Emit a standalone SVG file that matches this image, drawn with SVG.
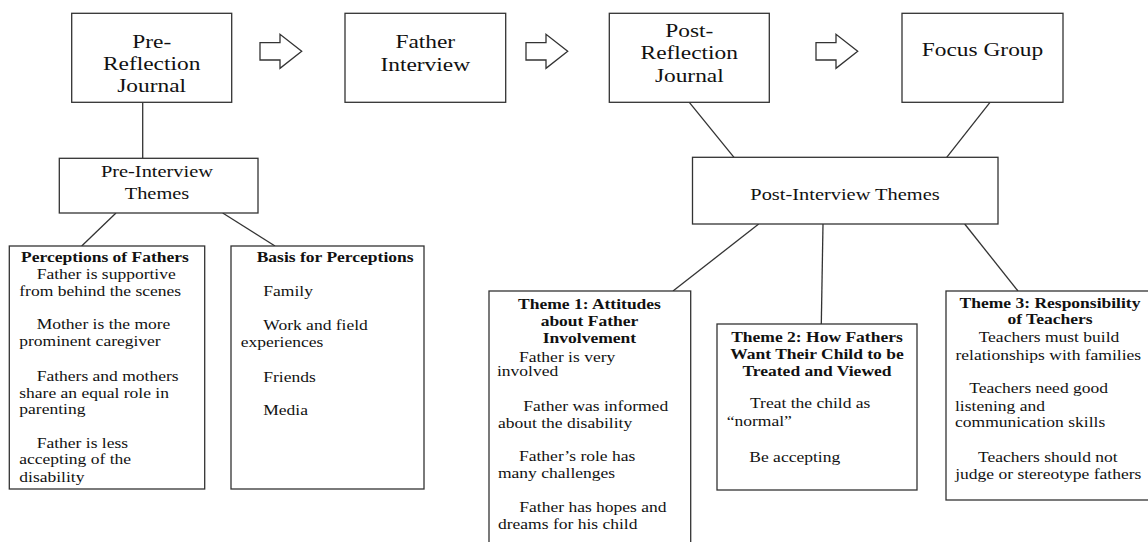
<svg xmlns="http://www.w3.org/2000/svg" width="1148" height="542" viewBox="0 0 1148 542">
<style>
rect, polygon { fill: #fff; stroke: #333; stroke-width: 1.3; }
line { stroke: #333; stroke-width: 1.3; }
text { font-family: "Liberation Serif", "Times New Roman", serif; fill: #111; transform-box: fill-box; }
.c { text-anchor: middle; transform-origin: center; transform: scaleX(1.2); }
.l { text-anchor: start; transform-origin: left center; transform: scaleX(1.2); }
.big { font-size: 19.5px; }
.mid { font-size: 17px; }
.sm { font-size: 14.6px; }
.b { font-weight: bold; }
</style>
<rect x="0" y="0" width="1148" height="542" style="fill:#fff;stroke:none"/>
<g id="connectors">
  <line x1="142.7" y1="102.3" x2="142.7" y2="158.3"/>
  <line x1="116" y1="213" x2="81.7" y2="246"/>
  <line x1="222.7" y1="213" x2="275" y2="246"/>
  <line x1="689.3" y1="102.3" x2="734" y2="157.3"/>
  <line x1="990" y1="102.3" x2="946.7" y2="157.3"/>
  <line x1="758.7" y1="224" x2="673" y2="291"/>
  <line x1="823" y1="224" x2="821.3" y2="324"/>
  <line x1="964.7" y1="224" x2="1018" y2="291"/>
  <polygon points="260,42.7 280,42.7 280,34.3 301.7,51.3 280,68.3 280,60 260,60"/>
  <polygon points="526,42.7 546,42.7 546,34.3 567.7,51.3 546,68.3 546,60 526,60"/>
  <polygon points="816,42.7 836,42.7 836,34.3 857.7,51.3 836,68.3 836,60 816,60"/>
</g>
<g id="pre-reflection">
  <rect x="71.7" y="13.3" width="160" height="89"/>
  <text class="c big" x="151.7" y="48.3">Pre-</text>
  <text class="c big" x="151.7" y="69.8">Reflection</text>
  <text class="c big" x="151.7" y="91.7">Journal</text>
</g>
<g id="father-interview">
  <rect x="345" y="13.3" width="160.7" height="89"/>
  <text class="c big" x="425.3" y="48.3">Father</text>
  <text class="c big" x="425.3" y="71">Interview</text>
</g>
<g id="post-reflection">
  <rect x="609.3" y="13.3" width="160" height="89"/>
  <text class="c big" x="689.3" y="36.7">Post-</text>
  <text class="c big" x="689.3" y="59.3">Reflection</text>
  <text class="c big" x="689.3" y="81.7">Journal</text>
</g>
<g id="focus-group">
  <rect x="902" y="13.3" width="161" height="89"/>
  <text class="c big" x="982.5" y="56">Focus Group</text>
</g>
<g id="pre-interview-themes">
  <rect x="59.3" y="158.3" width="198.7" height="54.7"/>
  <text class="c mid" x="157" y="176.7">Pre-Interview</text>
  <text class="c mid" x="157" y="199.3">Themes</text>
</g>
<g id="post-interview-themes">
  <rect x="692.5" y="157.3" width="305.5" height="66.7"/>
  <text class="c mid" x="845" y="200">Post-Interview Themes</text>
</g>
<g id="perceptions">
  <rect x="9.3" y="246" width="195.4" height="243"/>
  <text class="c sm b" x="105" y="261.7">Perceptions of Fathers</text>
  <text class="l sm" x="36.7" y="278.7">Father is supportive</text>
  <text class="l sm" x="19.3" y="296">from behind the scenes</text>
  <text class="l sm" x="36.7" y="329.3">Mother is the more</text>
  <text class="l sm" x="19.3" y="346">prominent caregiver</text>
  <text class="l sm" x="36.7" y="381">Fathers and mothers</text>
  <text class="l sm" x="19.3" y="397.7">share an equal role in</text>
  <text class="l sm" x="19.3" y="414.3">parenting</text>
  <text class="l sm" x="36.7" y="447.7">Father is less</text>
  <text class="l sm" x="19.3" y="464.3">accepting of the</text>
  <text class="l sm" x="19.3" y="481.7">disability</text>
</g>
<g id="basis">
  <rect x="231" y="246" width="193" height="243"/>
  <text class="l sm b" x="256.7" y="261.7">Basis for Perceptions</text>
  <text class="l sm" x="263.3" y="296">Family</text>
  <text class="l sm" x="263.3" y="330">Work and field</text>
  <text class="l sm" x="240.7" y="347.3">experiences</text>
  <text class="l sm" x="263.3" y="381.7">Friends</text>
  <text class="l sm" x="263.3" y="415">Media</text>
</g>
<g id="theme1">
  <rect x="489" y="291" width="201.7" height="260"/>
  <text class="c sm b" x="589.5" y="309.3">Theme 1: Attitudes</text>
  <text class="c sm b" x="589.5" y="326">about Father</text>
  <text class="c sm b" x="589.5" y="343.3">Involvement</text>
  <text class="l sm" x="519" y="361.7">Father is very</text>
  <text class="l sm" x="497" y="376">involved</text>
  <text class="l sm" x="523.3" y="411">Father was informed</text>
  <text class="l sm" x="498" y="428.3">about the disability</text>
  <text class="l sm" x="519" y="461">Father’s role has</text>
  <text class="l sm" x="498" y="478.3">many challenges</text>
  <text class="l sm" x="519.3" y="511.7">Father has hopes and</text>
  <text class="l sm" x="498" y="529">dreams for his child</text>
</g>
<g id="theme2">
  <rect x="717" y="324" width="200" height="166"/>
  <text class="c sm b" x="817" y="341.7">Theme 2: How Fathers</text>
  <text class="c sm b" x="817" y="358.7">Want Their Child to be</text>
  <text class="c sm b" x="817" y="375.7">Treated and Viewed</text>
  <text class="l sm" x="750" y="408.3">Treat the child as</text>
  <text class="l sm" x="726.7" y="425.7">“normal”</text>
  <text class="l sm" x="749.3" y="461.7">Be accepting</text>
</g>
<g id="theme3">
  <rect x="946" y="291" width="208" height="209"/>
  <text class="c sm b" x="1050" y="308.3">Theme 3: Responsibility</text>
  <text class="c sm b" x="1050" y="324.3">of Teachers</text>
  <text class="c sm" x="1049" y="342.3">Teachers must build</text>
  <text class="c sm" x="1048.3" y="360">relationships with families</text>
  <text class="l sm" x="969.3" y="393.3">Teachers need good</text>
  <text class="l sm" x="955" y="410.7">listening and</text>
  <text class="l sm" x="955" y="427.3">communication skills</text>
  <text class="l sm" x="978" y="461.7">Teachers should not</text>
  <text class="l sm" x="955" y="478.7">judge or stereotype fathers</text>
</g>
</svg>
